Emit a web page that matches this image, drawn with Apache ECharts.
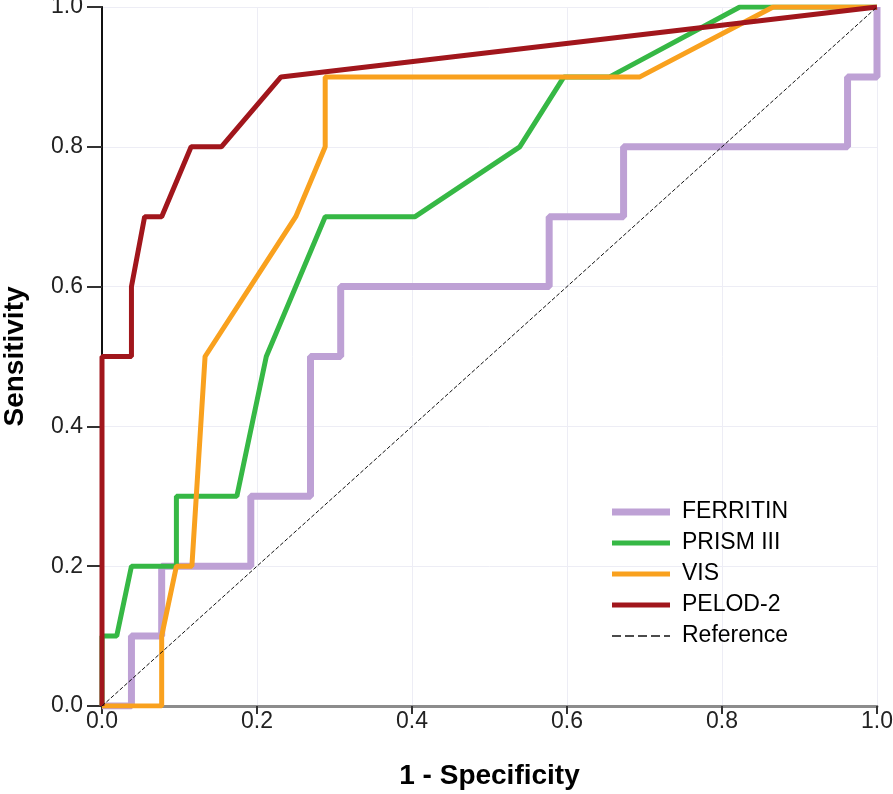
<!DOCTYPE html>
<html>
<head>
<meta charset="utf-8">
<script src="https://cdn.jsdelivr.net/npm/echarts@6/dist/echarts.min.js"></script>
<style>
  html, body { margin: 0; padding: 0; background: #fff; }
  #rocchart { width: 893px; height: 794px; }
</style>
</head>
<body>
<div id="rocchart"></div>
<script>
// ROC curves, x = 1 - specificity, y = sensitivity
var ferritinX = [0, 0.038, 0.038, 0.077, 0.077, 0.192, 0.192, 0.269, 0.269, 0.308, 0.308, 0.577, 0.577, 0.673, 0.673, 0.962, 0.962, 1, 1];
var ferritinY = [0, 0, 0.1, 0.1, 0.2, 0.2, 0.3, 0.3, 0.5, 0.5, 0.6, 0.6, 0.7, 0.7, 0.8, 0.8, 0.9, 0.9, 1];

var prismX = [0, 0, 0.019, 0.038, 0.096, 0.096, 0.174, 0.212, 0.288, 0.404, 0.539, 0.596, 0.655, 0.823, 1];
var prismY = [0, 0.1, 0.1, 0.2, 0.2, 0.3, 0.3, 0.5, 0.7, 0.7, 0.8, 0.9, 0.9, 1, 1];

var visX = [0, 0.077, 0.077, 0.096, 0.116, 0.133, 0.25, 0.288, 0.288, 0.694, 0.866, 1];
var visY = [0, 0, 0.1, 0.2, 0.2, 0.5, 0.7, 0.8, 0.9, 0.9, 1, 1];

var pelodX = [0, 0, 0.038, 0.038, 0.055, 0.077, 0.115, 0.154, 0.231, 1];
var pelodY = [0, 0.5, 0.5, 0.6, 0.7, 0.7, 0.8, 0.8, 0.9, 1];

var refX = [0, 1];
var refY = [0, 1];

var names = ['FERRITIN', 'PRISM III', 'VIS', 'PELOD-2', 'Reference'];
var colors = ['#bea1d5', '#36b845', '#f9a11e', '#a1161c', '#111'];

function pairs(xs, ys) {
    let out = [];
    for (let i = 0; i < xs.length; ++i) {
        out.push([xs[i], ys[i]]);
    }
    return out;
}

var font = 'Liberation Sans, Arial, sans-serif';
var gridLine = { show: true, lineStyle: { color: '#ededf5', width: 1 } };

// legend swatches: thick bar for ferritin, thinner bars, dashed for reference
var barThick = 'path://M0,0H58V7H0Z';
var barThin = 'path://M0,0H58V5H0Z';
var dashIcon = 'path://M0,0H9V1.6H0ZM13,0H22V1.6H13ZM26,0H35V1.6H26ZM39,0H48V1.6H39ZM52,0H58V1.6H52Z';

var myChart = echarts.init(document.getElementById('rocchart'));
var option = {
    backgroundColor: '#fff',
    animation: false,
    grid: { left: 102, right: 16, top: 7, bottom: 88, outerBoundsMode: 'none' },
    legend: {
        orient: 'vertical',
        left: 612,
        top: 500,
        padding: 0,
        itemWidth: 58,
        itemHeight: 14,
        itemGap: 7,
        textStyle: { fontFamily: font, fontSize: 23, color: '#000', lineHeight: 24, padding: [0, 0, 0, 7] },
        data: [
            { name: names[0], icon: barThick },
            { name: names[1], icon: barThin },
            { name: names[2], icon: barThin },
            { name: names[3], icon: barThin },
            { name: names[4], icon: dashIcon }
        ]
    },
    xAxis: [{
        type: 'value',
        min: 0, max: 1, interval: 0.2,
        name: '1 - Specificity',
        nameLocation: 'middle',
        nameGap: 56,
        nameTextStyle: { fontFamily: font, fontSize: 28, fontWeight: 'bold', color: '#000' },
        axisLine: { show: true, lineStyle: { color: '#555', width: 2 } },
        axisTick: { show: true, length: 8, lineStyle: { color: '#333', width: 2 } },
        axisLabel: { fontFamily: font, fontSize: 23, color: '#222', margin: 4,
            formatter: function (v) { return v.toFixed(1); } },
        splitLine: gridLine
    }, {
        type: 'value',
        position: 'top',
        min: 0, max: 1,
        axisLine: { show: true, lineStyle: { color: '#8c8c8c', width: 3 } },
        axisTick: { show: false },
        axisLabel: { show: false },
        splitLine: { show: false }
    }],
    yAxis: [{
        type: 'value',
        min: 0, max: 1, interval: 0.2,
        name: 'Sensitivity',
        nameLocation: 'middle',
        nameGap: 73,
        nameTextStyle: { fontFamily: font, fontSize: 28, fontWeight: 'bold', color: '#000' },
        axisLine: { show: true, lineStyle: { color: '#111', width: 1.5 } },
        axisTick: { show: true, length: 15, lineStyle: { color: '#333', width: 2 } },
        axisLabel: { fontFamily: font, fontSize: 23, color: '#222', margin: 19,
            formatter: function (v) { return v.toFixed(1); } },
        splitLine: gridLine
    }, {
        type: 'value',
        position: 'right',
        min: 0, max: 1,
        axisLine: { show: true, lineStyle: { color: '#111', width: 2 } },
        axisTick: { show: false },
        axisLabel: { show: false },
        splitLine: { show: false }
    }],
    series: [
        { name: names[0], type: 'line', data: pairs(ferritinX, ferritinY), symbol: 'none', z: 2,
          lineStyle: { color: colors[0], width: 7 }, itemStyle: { color: colors[0] } },
        { name: names[1], type: 'line', data: pairs(prismX, prismY), symbol: 'none', z: 3,
          lineStyle: { color: colors[1], width: 5 }, itemStyle: { color: colors[1] } },
        { name: names[2], type: 'line', data: pairs(visX, visY), symbol: 'none', z: 4,
          lineStyle: { color: colors[2], width: 5 }, itemStyle: { color: colors[2] } },
        { name: names[3], type: 'line', data: pairs(pelodX, pelodY), symbol: 'none', z: 5,
          lineStyle: { color: colors[3], width: 5 }, itemStyle: { color: colors[3] } },
        { name: names[4], type: 'line', data: pairs(refX, refY), symbol: 'none', z: 6,
          lineStyle: { color: colors[4], width: 1, type: [4, 2] }, itemStyle: { color: colors[4] } }
    ]
};
myChart.setOption(option);
</script>
</body>
</html>
